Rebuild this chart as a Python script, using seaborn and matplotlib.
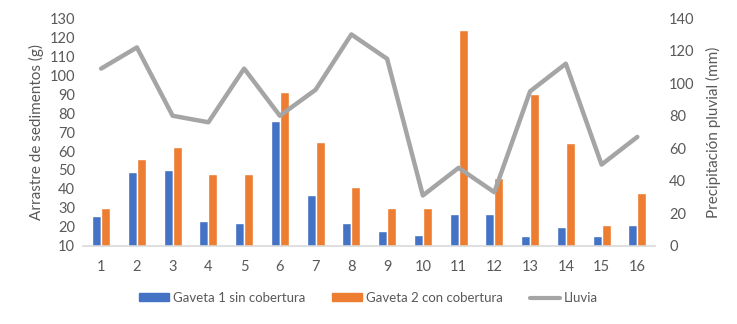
import numpy as np
import pandas as pd
import matplotlib
matplotlib.use("Agg")
import matplotlib.pyplot as plt
import seaborn as sns
from matplotlib.lines import Line2D
from matplotlib.patches import Patch

categories = [str(i) for i in range(1, 17)]
gaveta1 = [26, 49, 50, 23, 22, 76, 37, 22, 18, 16, 27, 27, 15, 20, 15, 21]
gaveta2 = [30, 56, 62, 48, 48, 91, 65, 41, 30, 30, 124, 46, 90, 64, 21, 38]
lluvia = [109, 122, 80, 76, 109, 80, 96, 130, 115, 31, 48, 33, 95, 112, 50, 67]
series_names = ["Gaveta 1 sin cobertura", "Gaveta 2 con cobertura", "Lluvia"]
left_ticks = list(range(10, 131, 10))
right_ticks = list(range(0, 141, 20))

sns.set_theme(style="white")
plt.rcParams['font.family'] = ['Lato', 'DejaVu Sans']
txt = "#595959"

df = pd.DataFrame({
    "cat": categories * 2,
    "val": gaveta1 + gaveta2,
    "serie": [series_names[0]] * 16 + [series_names[1]] * 16,
})

fig = plt.figure(figsize=(7.37, 3.24), dpi=100)
ax = fig.add_axes([0.113, 0.241, 0.776, 0.703])
colors = ["#4472C4", "#ED7D31"]
sns.barplot(data=df, x="cat", y="val", hue="serie", palette=colors, ax=ax,
            width=0.5, gap=0.0, legend=False, saturation=1)
ax.set_ylim(10, 130)
ax.set_yticks(left_ticks)
ax.set_xlim(-0.5, 15.5)
ax.set_xlabel("")
ax.set_ylabel("Arrastre de sedimentos (g)", fontsize=11, color=txt)
ax.tick_params(axis="both", length=0, labelsize=10.5, colors=txt, pad=6)
ax.tick_params(axis="x", pad=10)
for s in ["top", "right", "left"]:
    ax.spines[s].set_visible(False)
ax.spines["bottom"].set_color("#D9D9D9")
ax.spines["bottom"].set_linewidth(1.2)

ax2 = ax.twinx()
sns.lineplot(x=np.arange(len(categories)), y=lluvia, ax=ax2, color="#A5A5A5",
             linewidth=3.2, legend=False)
ax2.set_ylim(0, 140)
ax2.set_yticks(right_ticks)
ax2.set_ylabel("Precipitación pluvial (mm)", fontsize=11, color=txt, labelpad=8)
ax2.tick_params(axis="y", length=0, labelsize=10.5, colors=txt, pad=10)
for s in ["top", "right", "left", "bottom"]:
    ax2.spines[s].set_visible(False)
ax2.grid(False)
ax.grid(False)

handles = [Patch(color=colors[0]), Patch(color=colors[1]),
           Line2D([], [], color="#A5A5A5", linewidth=3)]
fig.legend(handles, series_names, loc="center", bbox_to_anchor=(0.5, 0.08),
           ncol=3, frameon=False, fontsize=9.5, labelcolor=txt,
           handlelength=2.3, handleheight=0.55, columnspacing=2.0, handletextpad=0.3)

fig.savefig("out.png", dpi=100)
